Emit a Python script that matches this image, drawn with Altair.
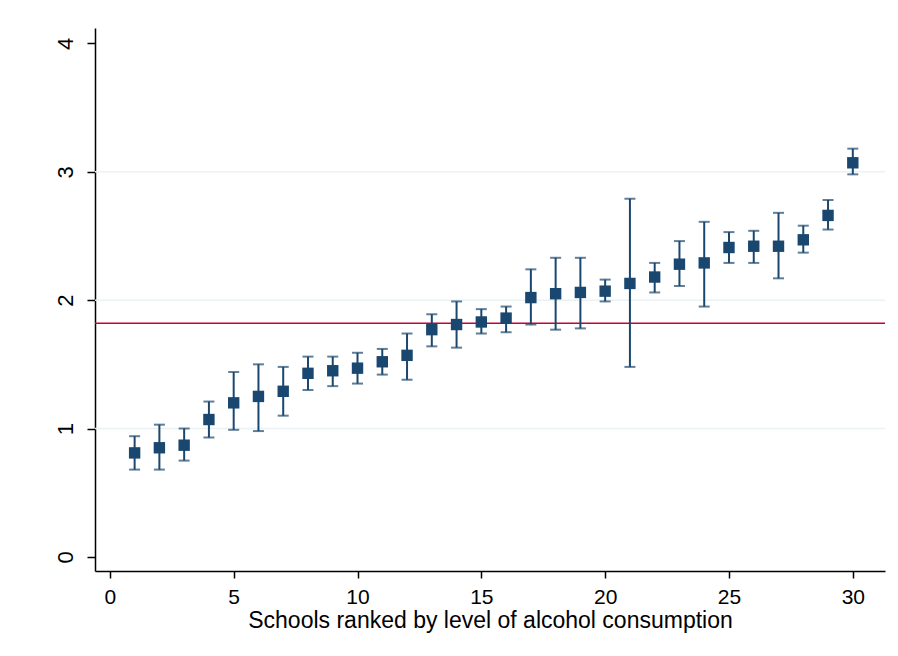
import altair as alt
import pandas as pd

rank = list(range(1, 31))
mean = [0.81, 0.85, 0.87, 1.07, 1.20, 1.25, 1.29, 1.43, 1.45, 1.47,
        1.52, 1.57, 1.77, 1.81, 1.83, 1.86, 2.02, 2.05, 2.06, 2.07,
        2.13, 2.18, 2.28, 2.29, 2.41, 2.42, 2.42, 2.47, 2.66, 3.07]
upper = [0.94, 1.03, 1.00, 1.21, 1.44, 1.50, 1.48, 1.56, 1.56, 1.59,
         1.62, 1.74, 1.89, 1.99, 1.93, 1.95, 2.24, 2.33, 2.33, 2.16,
         2.79, 2.29, 2.46, 2.61, 2.53, 2.54, 2.68, 2.58, 2.78, 3.18]
lower = [0.68, 0.68, 0.75, 0.93, 0.99, 0.98, 1.10, 1.30, 1.33, 1.35,
         1.42, 1.38, 1.64, 1.63, 1.74, 1.75, 1.81, 1.77, 1.78, 1.99,
         1.48, 2.06, 2.11, 1.95, 2.29, 2.29, 2.17, 2.37, 2.55, 2.98]
overall_mean = 1.82
grid_values = [1, 2, 3]
x_ticks = [0, 5, 10, 15, 20, 25, 30]
y_ticks = [0, 1, 2, 3, 4]

df = pd.DataFrame({"rank": rank, "mean": mean, "upper": upper, "lower": lower})
grid_df = pd.DataFrame({"g": grid_values})
ref_df = pd.DataFrame({"m": [overall_mean]})

NAVY = "#1a476f"
RED = "#c10534"
FONT = "Liberation Sans"

xscale = alt.Scale(domain=[-0.6, 31.3], nice=False, zero=False)
yscale = alt.Scale(domain=[-0.11, 4.12], nice=False, zero=False)

xax = alt.Axis(values=x_ticks, format="d",
               title="Schools ranked by level of alcohol consumption",
               grid=False, tickSize=7, labelPadding=8, titlePadding=2,
               labelFontSize=21, titleFontSize=23)
yax = alt.Axis(values=y_ticks, format="d", title=None, grid=False, tickSize=8,
               labelPadding=10, labelAngle=270, labelFontSize=22,
               labelBaseline="bottom", labelAlign="center")

grid = alt.Chart(grid_df).mark_rule(color="#eaf2f3", strokeWidth=1.5).encode(
    y=alt.Y("g:Q", scale=yscale, axis=yax)
)

ref = alt.Chart(ref_df).mark_rule(color=RED, strokeWidth=1.5).encode(
    y=alt.Y("m:Q", scale=yscale, axis=yax)
)

bars = alt.Chart(df).mark_errorbar(
    ticks=alt.MarkConfig(size=11, color=NAVY, strokeWidth=2),
    color=NAVY, thickness=2).encode(
    x=alt.X("rank:Q", scale=xscale, axis=xax),
    y=alt.Y("lower:Q", scale=yscale, axis=yax),
    y2="upper:Q",
)

pts = alt.Chart(df).mark_square(size=130, color=NAVY, opacity=1).encode(
    x=alt.X("rank:Q", scale=xscale, axis=xax),
    y=alt.Y("mean:Q", scale=yscale, axis=yax),
)

chart = alt.layer(grid, ref, bars, pts).properties(
    width=790, height=543,
    padding={"left": 87, "top": 20, "right": 5, "bottom": 85},
    autosize=alt.AutoSizeParams(type="none"),
    background="white",
).configure_view(stroke=None).configure_axis(
    labelFont=FONT, titleFont=FONT, titleFontWeight="normal",
    labelColor="#000", titleColor="#000",
    domainColor="#000", tickColor="#000", domainWidth=1.5, tickWidth=1.5,
).configure_axisX(labelFontSize=21, titleFontSize=23).configure_axisY(labelFontSize=22)

chart.save("out.html", embed_options={"renderer": "svg", "actions": False})
